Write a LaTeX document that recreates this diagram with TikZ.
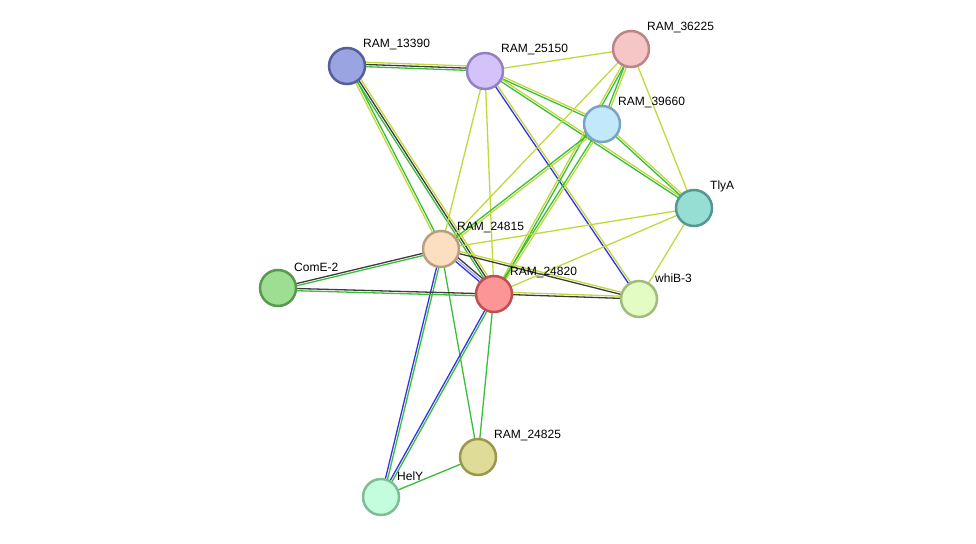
\documentclass[tikz,border=0pt]{standalone}
\usepackage{fontspec}
\setmainfont{Liberation Sans}
\usetikzlibrary{calc,backgrounds}
\definecolor{ey}{RGB}{194, 216, 58}
\definecolor{eg}{RGB}{56, 190, 56}
\definecolor{ek}{RGB}{60, 60, 60}
\definecolor{eb}{RGB}{50, 50, 235}
\definecolor{ep}{RGB}{170, 170, 240}
\tikzset{
  prot/.style={circle, minimum size=36pt, line width=2.5pt, inner sep=0pt},
  lbl/.style={font=\fontsize{12}{14}\selectfont, inner sep=1pt, label distance=2pt}
}
% one line per colour, side by side
\newcommand{\link}[3]{%
  \foreach \cc [count=\k] in {#3} {
    \pgfmathsetmacro{\off}{(\k-1)*2.2}
    \draw[\cc, line width=1.3pt] ($(#1)!\off pt!90:(#2)$) -- ($(#2)!\off pt!-90:(#1)$);
  }}

\begin{document}
\begin{tikzpicture}[x=1pt, y=1pt]
\useasboundingbox (0,0) rectangle (976,-543);
\node (n13390) [prot, fill={rgb,255:red,154;green,164;blue,224}, draw={rgb,255:red,84;green,94;blue,160}, label={[lbl]north east:RAM\_13390}] at (347,-66) {};
\node (n25150) [prot, fill={rgb,255:red,212;green,194;blue,250}, draw={rgb,255:red,148;green,128;blue,196}, label={[lbl]north east:RAM\_25150}] at (485,-71) {};
\node (n36225) [prot, fill={rgb,255:red,246;green,198;blue,198}, draw={rgb,255:red,188;green,132;blue,132}, label={[lbl]north east:RAM\_36225}] at (631,-49) {};
\node (n39660) [prot, fill={rgb,255:red,194;green,232;blue,252}, draw={rgb,255:red,124;green,164;blue,192}, label={[lbl]north east:RAM\_39660}] at (602,-124) {};
\node (tlyA) [prot, fill={rgb,255:red,150;green,222;blue,212}, draw={rgb,255:red,84;green,152;blue,144}, label={[lbl]north east:TlyA}] at (694,-208) {};
\node (n24815) [prot, fill={rgb,255:red,252;green,222;blue,192}, draw={rgb,255:red,186;green,158;blue,128}, label={[lbl]north east:RAM\_24815}] at (441,-249) {};
\node (comE) [prot, fill={rgb,255:red,158;green,222;blue,146}, draw={rgb,255:red,88;green,152;blue,80}, label={[lbl]north east:ComE-2}] at (278,-288) {};
\node (n24820) [prot, fill={rgb,255:red,252;green,150;blue,150}, draw={rgb,255:red,190;green,80;blue,80}, label={[lbl]north east:RAM\_24820}] at (494,-294) {};
\node (whiB) [prot, fill={rgb,255:red,226;green,252;blue,196}, draw={rgb,255:red,160;green,188;blue,124}, label={[lbl]north east:whiB-3}] at (639,-299) {};
\node (n24825) [prot, fill={rgb,255:red,222;green,220;blue,150}, draw={rgb,255:red,154;green,152;blue,76}, label={[lbl]north east:RAM\_24825}] at (478,-457) {};
\node (helY) [prot, fill={rgb,255:red,196;green,252;blue,222}, draw={rgb,255:red,124;green,190;blue,152}, label={[lbl]north east:HelY}] at (381,-497) {};

\begin{pgfonlayer}{background}
\link{n13390}{n25150}{eg,ek,ey}
\link{n13390}{n24815}{ey,eg}
\link{n13390}{n24820}{eg,ek,ey}
\link{n25150}{n36225}{ey}
\link{n25150}{n39660}{eg,ey}
\link{n25150}{tlyA}{eg,ey}
\link{n25150}{n24815}{ey}
\link{n25150}{n24820}{ey}
\link{n25150}{whiB}{eb,ey}
\link{n36225}{n39660}{eg,ey}
\link{n36225}{n24815}{ey}
\link{n36225}{n24820}{ey,eg}
\link{n36225}{tlyA}{ey}
\link{n39660}{tlyA}{eg,ey}
\link{n39660}{n24815}{eg,ey}
\link{n39660}{n24820}{eg,ey}
\link{tlyA}{n24815}{ey}
\link{tlyA}{n24820}{ey}
\link{tlyA}{whiB}{ey}
\link{n24815}{comE}{ek,eg}
\link{n24815}{n24820}{eb,ep,ek}
\link{n24815}{whiB}{ek,ey}
\link{n24815}{helY}{eb,eg}
\link{n24815}{n24825}{eg}
\link{n24820}{comE}{ek,eg}
\link{n24820}{whiB}{ek,ey}
\link{n24820}{helY}{eb,eg}
\link{n24820}{n24825}{eg}
\link{helY}{n24825}{eg}
\end{pgfonlayer}
\end{tikzpicture}
\end{document}
